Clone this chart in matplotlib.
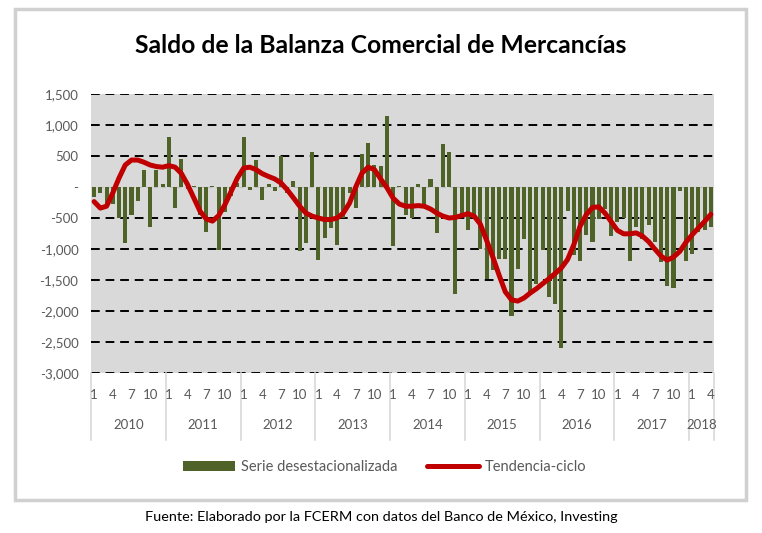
import numpy as np
import matplotlib
matplotlib.use("Agg")
import matplotlib.pyplot as plt
from matplotlib.patches import Rectangle, Patch
from matplotlib.lines import Line2D

plt.rcParams['font.family'] = ['Lato', 'DejaVu Sans']

# %% data: monthly balance (millions USD), Jan 2010 - Apr 2018
years = ["2010", "2011", "2012", "2013", "2014", "2015", "2016", "2017", "2018"]
months_per_year = [12, 12, 12, 12, 12, 12, 12, 12, 4]
month_labels = ["1", "4", "7", "10"]

serie = (
    [-155, -90, -275, -280, -495, -905, -450, -225, 275, -640, 275, 50]          # 2010
    + [810, -340, 445, -30, 20, -450, -720, 10, -1015, -410, -150, 60]           # 2011
    + [810, -50, 430, -210, 45, -65, 495, -100, 95, -1030, -900, 560]            # 2012
    + [-1175, -825, -665, -935, -505, -100, -345, 540, 715, 350, 335, 1145]      # 2013
    + [-950, 20, -450, -505, 50, -290, 125, -735, 690, 570, -1730, -480]         # 2014
    + [-695, -480, -1000, -1480, -1340, -1160, -1165, -2075, -1325, -845, -1710, -1560]  # 2015
    + [-1010, -1775, -1880, -2594, -392, -1090, -1187, -779, -891, -515, -350, -795]     # 2016
    + [-560, -500, -1198, -644, -838, -618, -880, -1214, -1600, -1627, -60, -1187]       # 2017
    + [-1080, -720, -687, -644]                                                   # 2018
)

tendencia = (
    [-235, -340, -310, -95, 145, 355, 435, 435, 400, 355, 330, 320]
    + [345, 320, 220, 40, -175, -390, -515, -550, -460, -285, -70, 145]
    + [305, 320, 280, 215, 170, 130, 65, -45, -175, -310, -420, -470]
    + [-500, -525, -525, -500, -420, -260, 0, 225, 320, 280, 130, -10]
    + [-180, -275, -310, -310, -300, -310, -355, -420, -470, -500, -490, -460]
    + [-430, -470, -600, -860, -1130, -1420, -1690, -1820, -1840, -1790, -1710, -1640]
    + [-1560, -1480, -1395, -1305, -1170, -930, -635, -445, -330, -320, -420, -560]
    + [-700, -755, -755, -740, -790, -880, -1000, -1115, -1180, -1130, -1040, -890]
    + [-770, -660, -555, -440]
)

x = np.arange(len(serie))

# %% figure
fig = plt.figure(figsize=(7.62, 5.33), dpi=100)
fig.patches.append(Rectangle((0.0197, 0.0619), 0.959, 0.921, transform=fig.transFigure,
                             facecolor="white", edgecolor="#D0D0D0", lw=2.5, zorder=-1))

ax = fig.add_axes([0.1194, 0.3002, 0.8176, 0.5234])
ax.set_facecolor("#D9D9D9")

for v in range(-3000, 1501, 500):
    if v == 0:
        ax.axhline(0, color="#BFBFBF", lw=0.8, ls=(0, (4, 3)), zorder=1)
    else:
        ax.axhline(v, color="black", lw=1.4, ls=(0, (4.5, 3)), zorder=1)

ax.bar(x, serie, width=0.65, color="#4F6228", zorder=2)
ax.plot(x, tendencia, color="#C00000", lw=3.6, solid_capstyle="round", zorder=3)

ax.set_xlim(-0.5, len(serie) - 0.5)
ax.set_ylim(-3000, 1500)
ax.set_yticks(range(-3000, 1501, 500))
ax.set_yticklabels(["-" if v == 0 else f"{v:,}" for v in range(-3000, 1501, 500)])
ax.tick_params(axis="y", length=0, pad=9, labelsize=9.5, labelcolor="#595959")
for s in ax.spines.values():
    s.set_visible(False)

# month / year two-level axis
ax.set_xticks([])
trans = ax.get_xaxis_transform()
start = 0
bounds = [-0.5]
for yr, n in zip(years, months_per_year):
    for k, lab in enumerate(month_labels):
        m = k * 3
        if m < n:
            ax.text(start + m, -0.079, lab, transform=trans, ha="center", va="center",
                    fontsize=9.5, color="#595959")
    ax.text(start + (n - 1) / 2, -0.186, yr, transform=trans, ha="center", va="center",
            fontsize=9.5, color="#595959")
    start += n
    bounds.append(start - 0.5)
for b in bounds:
    ax.plot([b, b], [0, -0.24], transform=trans, color="#D9D9D9", lw=1.2, clip_on=False)

fig.text(0.5, 0.915, "Saldo de la Balanza Comercial de Mercancías", ha="center", va="center",
         fontsize=17.8, fontweight="bold")

handles = [Patch(facecolor="#4F6228", edgecolor="none", label="Serie desestacionalizada"),
           Line2D([], [], color="#C00000", lw=3.6, solid_capstyle="round", label="Tendencia-ciclo")]
fig.legend(handles=handles, loc="center", bbox_to_anchor=(0.505, 0.124), ncol=2, frameon=False,
           fontsize=10.5, handlelength=3.6, handletextpad=0.4, columnspacing=2.0,
           labelcolor="#595959")

fig.text(0.5, 0.030, "Fuente: Elaborado por la FCERM con datos del Banco de México, Investing",
         ha="center", va="center", fontsize=10.4)

fig.savefig("out.png", dpi=100)
